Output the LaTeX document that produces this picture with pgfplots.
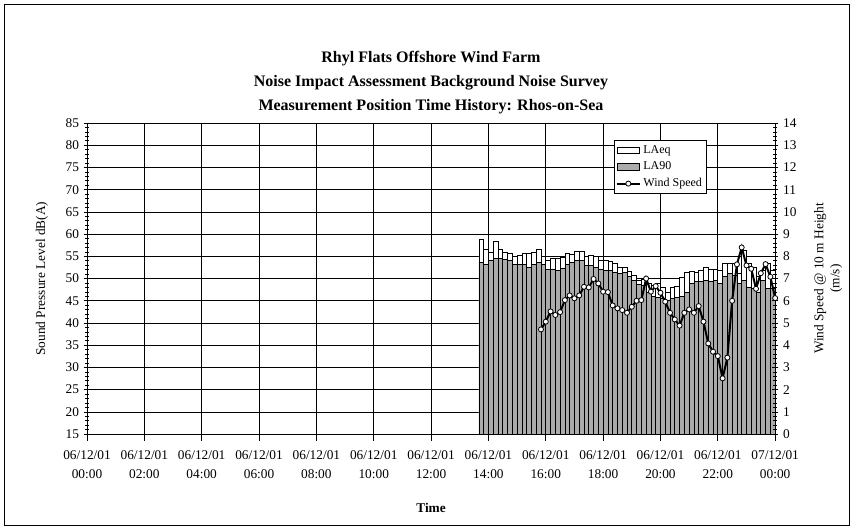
\documentclass[border=0pt]{standalone}
\usepackage{fontspec}
\setmainfont{Liberation Serif}
\usepackage{pgfplots}
\usepackage{pgfplotstable}
\pgfplotsset{compat=1.18}
\pgfplotstableread{
t laeq la90
825 58.8 53.6
835 56.6 53.2
845 55.8 54.0
855 58.3 54.5
865 56.6 54.5
875 56.0 54.3
885 55.6 54.0
895 55.0 53.2
905 55.3 53.2
915 55.6 53.2
925 55.6 52.5
935 56.0 53.2
945 56.5 53.6
955 55.1 53.2
965 54.2 52.1
975 54.5 52.1
985 54.5 51.9
995 54.7 52.4
1005 55.6 53.2
1015 55.5 53.6
1025 56.2 54.1
1035 56.2 54.1
1045 54.9 53.0
1055 55.3 52.9
1065 54.9 52.5
1075 54.0 52.0
1085 54.0 51.9
1095 53.8 51.9
1105 53.4 51.5
1115 52.6 51.1
1125 52.6 51.3
1135 51.7 50.4
1145 50.8 49.6
1155 49.6 48.7
1165 49.8 48.5
1175 48.9 46.8
1185 48.5 46.0
1195 48.9 45.8
1205 48.1 45.5
1215 47.0 45.2
1225 48.1 45.5
1235 48.3 45.8
1245 50.2 46.0
1255 51.5 46.8
1265 51.7 48.9
1275 51.5 49.3
1285 51.9 49.3
1295 52.5 49.6
1305 52.0 49.3
1315 52.0 49.6
1325 51.9 48.9
1335 53.4 50.4
1345 53.4 51.1
1355 53.4 50.8
1365 51.1 48.9
1375 56.4 49.6
1385 53.4 48.1
1395 52.5 47.8
1405 50.4 47.0
1415 51.9 49.6
1425 53.4 47.8
1435 51.9 47.8
}\bars
\pgfplotstableread{
t ws
950 4.71
960 5.06
970 5.52
980 5.36
990 5.49
1000 6.03
1010 6.24
1020 6.11
1030 6.24
1040 6.63
1050 6.60
1060 6.98
1070 6.78
1080 6.41
1090 6.39
1100 5.79
1110 5.66
1120 5.58
1130 5.46
1140 5.73
1150 6.00
1160 6.03
1170 7.00
1180 6.41
1190 6.66
1200 6.36
1210 5.96
1220 5.46
1230 5.16
1240 4.88
1250 5.46
1260 5.61
1270 5.46
1280 5.76
1290 5.06
1300 4.08
1310 3.71
1320 3.51
1330 2.51
1340 3.44
1350 6.00
1360 7.64
1370 8.40
1380 7.59
1390 7.44
1400 6.54
1410 7.24
1420 7.65
1430 7.08
1440 6.12
}\wind
\begin{document}
\begin{tikzpicture}
\path[use as bounding box] (0pt,0pt) rectangle (640pt,397.3pt);
\draw[line width=0.75pt] (3.7pt,3.7pt) rectangle (636.3pt,393.6pt);
\pgfplotsset{
  common/.style={
    at={(65.2pt,72pt)}, anchor=south west,
    width=515.7pt, height=233.1pt, scale only axis,
    xmin=0, xmax=1440,
    font=\fontsize{10}{12}\selectfont,
    /pgf/number format/assume math mode=true,
    tick align=center,
    major tick length=5pt, minor tick length=3pt,
    tick style={black, line width=0.5pt},
    axis line style={line width=0.7pt},
  }
}
\begin{axis}[common,
  ymin=15, ymax=85,
  ytick={15,20,...,85}, minor y tick num=4,
  xtick={0,120,...,1440},
  xticklabels={06/12/01\\00:00,06/12/01\\02:00,06/12/01\\04:00,06/12/01\\06:00,06/12/01\\08:00,06/12/01\\10:00,06/12/01\\12:00,06/12/01\\14:00,06/12/01\\16:00,06/12/01\\18:00,06/12/01\\20:00,06/12/01\\22:00,07/12/01\\00:00},
  xticklabel style={align=center, font=\fontsize{10}{14}\selectfont, yshift=-4pt},
  ytick pos=left, xtick pos=bottom,
  grid=major, grid style={black, line width=0.5pt},
  xlabel={\textbf{Time}},
  xlabel style={yshift=-12pt},
  ylabel={Sound Pressure Level dB(A)},
  ylabel style={at={(axis description cs:-0.0654,0.5)}, anchor=center},
  ybar, bar width=10,
]
\addplot[bar shift=0pt, draw=black, line width=0.5pt, fill=white] table[x=t, y=laeq] {\bars};
\addplot[bar shift=0pt, draw=black, line width=0.5pt, fill=black!33] table[x=t, y=la90] {\bars};
\end{axis}
\begin{axis}[common,
  ymin=0, ymax=14,
  ytick={0,1,...,14}, minor y tick num=4,
  axis x line=none, axis y line*=right,
  ylabel={Wind Speed @ 10 m Height\\(m/s)},
  ylabel style={align=center, at={(axis description cs:1.077,0.5)}, anchor=center},
  legend style={at={(axis description cs:0.901,0.945)}, anchor=north east,
    draw=black, line width=0.6pt, fill=white, font=\fontsize{9}{10}\selectfont,
    inner sep=1.5pt, row sep=1pt},
  legend cell align=left,
]
\addlegendimage{legend image code/.code={\draw[fill=white,draw=black,line width=0.5pt] (0pt,-2.3pt) rectangle (17pt,2.3pt);}}
\addlegendentry{LAeq}
\addlegendimage{legend image code/.code={\draw[fill=black!33,draw=black,line width=0.5pt] (0pt,-2.3pt) rectangle (17pt,2.3pt);}}
\addlegendentry{LA90}
\addplot[black, line width=1.5pt, mark=*, mark size=1.9pt, mark options={fill=white, draw=black, line width=0.6pt}] table[x=t, y=ws] {\wind};
\addlegendentry{Wind Speed}
\end{axis}
\node[align=center, anchor=south, font=\bfseries\fontsize{12}{18}\selectfont] at (323pt,308pt)
  {Rhyl Flats Offshore Wind Farm\\Noise Impact Assessment Background Noise Survey\\Measurement Position Time History: Rhos-on-Sea};
\end{tikzpicture}
\end{document}
